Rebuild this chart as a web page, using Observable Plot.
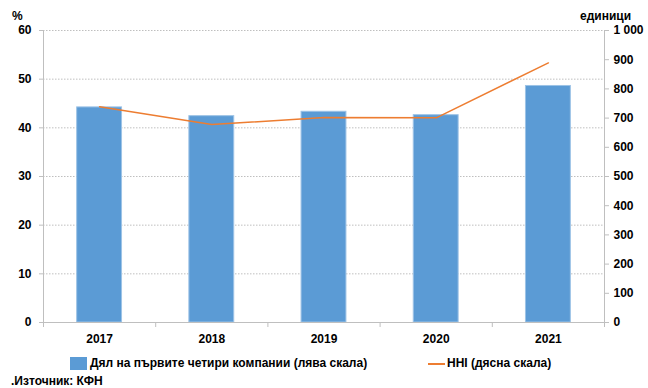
<!DOCTYPE html>
<html>
<head>
<meta charset="utf-8">
<script src="https://cdn.jsdelivr.net/npm/d3@7"></script>
<script src="https://cdn.jsdelivr.net/npm/@observablehq/plot@0.6"></script>
<style>
  html, body { margin: 0; padding: 0; background: #fff; }
  #wrap { position: relative; width: 648px; height: 388px; font-family: "Liberation Sans", Arial, sans-serif; font-weight: bold; color: #000; }
  .lbl { position: absolute; font-size: 12px; white-space: nowrap; line-height: 1; }
  #chart { position: absolute; left: 0; top: 0; }
</style>
</head>
<body>
<div id="wrap">
  <div id="chart"></div>
  <div class="lbl" style="left:12px; top:10px;">%</div>
  <div class="lbl" style="left:580px; top:10px;">единици</div>
  <div class="lbl" style="left:70px; top:357px; width:17px; height:13px; background:#5B9BD5;"></div>
  <div class="lbl" style="left:90px; top:357px; font-size:12px;" id="leg1"></div>
  <div class="lbl" style="left:428px; top:363px; width:17px; height:2px; background:#ED7D31;"></div>
  <div class="lbl" style="left:447px; top:357px; font-size:12px;" id="leg2"></div>
  <div class="lbl" style="left:11px; top:375px; font-size:12px;" id="src"></div>
</div>
<script>
const years = ["2017", "2018", "2019", "2020", "2021"];
const share = [44.2, 42.4, 43.3, 42.6, 48.6];
const hhi = [739, 678, 702, 701, 889];
const leftTicks = [0, 10, 20, 30, 40, 50, 60];
const rightTicks = [0, 100, 200, 300, 400, 500, 600, 700, 800, 900, 1000];
const seriesNames = ["Дял на първите четири компании (лява скала)", "HHI (дясна скала)"];
const sourceText = ".Източник: КФН";

document.getElementById("leg1").textContent = seriesNames[0];
document.getElementById("leg2").textContent = seriesNames[1];
document.getElementById("src").textContent = sourceText;

const ratio = 60 / 1000;
const data = years.map((y, i) => ({i, year: y, share: share[i], hhi: hhi[i]}));
const fmtR = v => d3.format(",")(v).replace(/,/g, " ");
const gray = "#bfbfbf";

const chart = Plot.plot({
  width: 648,
  height: 350,
  marginLeft: 43,
  marginRight: 44,
  marginTop: 30,
  marginBottom: 28,
  style: {fontFamily: "'Liberation Sans', Arial, sans-serif", fontSize: "12px", fontWeight: "bold", color: "#000", background: "transparent"},
  x: {domain: [0, years.length]},
  y: {domain: [0, 60]},
  marks: [
    Plot.gridY(leftTicks.slice(1), {stroke: gray, strokeOpacity: 1, strokeDasharray: "1.5,1.5"}),
    Plot.rectY(data, {x1: d => d.i + 0.3, x2: d => d.i + 0.7, y: "share", fill: "#5B9BD5", stroke: "#9DC3E6", strokeWidth: 1}),
    Plot.lineY(data, {x: d => d.i + 0.5, y: d => d.hhi * ratio, stroke: "#ED7D31", strokeWidth: 1.5}),
    Plot.ruleY([0], {stroke: gray}),
    Plot.ruleX([0, years.length], {stroke: gray}),
    Plot.axisY(leftTicks, {anchor: "left", tickSize: 4, tickPadding: 8, stroke: gray, fill: "#000", label: null}),
    Plot.axisY(rightTicks.map(v => v * ratio), {anchor: "right", tickSize: 4, tickPadding: 5, stroke: gray, fill: "#000", label: null, tickFormat: d => fmtR(Math.round(d / ratio))}),
    Plot.axisX(d3.range(years.length + 1), {tickSize: 5, tickFormat: () => "", stroke: gray, label: null}),
    Plot.axisX(years.map((y, i) => i + 0.5), {tickSize: 0, tickPadding: 12, tickFormat: d => years[Math.floor(d)], fill: "#000", label: null})
  ]
});
document.getElementById("chart").appendChild(chart);
</script>
</body>
</html>
